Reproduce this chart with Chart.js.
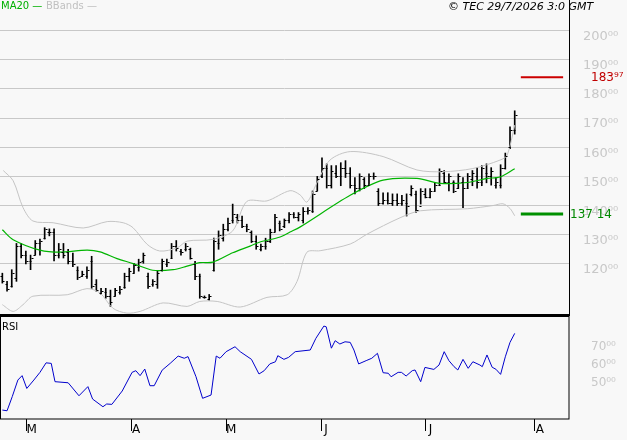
<!DOCTYPE html>
<html>
<head>
<meta charset="utf-8">
<script src="https://cdn.jsdelivr.net/npm/chart.js@4/dist/chart.umd.min.js"></script>
<style>
  body { margin: 0; background: #f8f8f8; font-family: "DejaVu Sans", sans-serif; }
  #wrap { position: relative; width: 627px; height: 440px; overflow: hidden; }
  #main { position: absolute; left: 0; top: 0; }
  #rsi { position: absolute; left: 0; top: 316px; }
  .lbl { position: absolute; font-size: 11px; white-space: nowrap; }
</style>
</head>
<body>
<div id="wrap">
  <canvas id="main" width="627" height="316"></canvas>
  <canvas id="rsi" width="627" height="124"></canvas>
  <div class="lbl" style="left:1px;top:0;color:#00b000;font-size:10px">MA20 —</div>
  <div class="lbl" style="left:46px;top:0;color:#c0c0c0;font-size:10px">BBands —</div>
  <div class="lbl" style="left:448px;top:0;font-style:italic;color:#000">© TEC 29/7/2026 3:0 GMT</div>
  <div class="lbl" style="left:2px;top:321px;color:#000;font-size:10px">RSI</div>
</div>
<script>
// bars: high, low, open, close (index = trading day)
const highs = [116.8,114,118,127,127,124.4,123,128,128.5,132.4,132,132,127,127,125,123.7,119,117.5,119,122.6,
  114.6,111.6,111.6,111,111.6,112.3,116.8,118.5,120.2,121.6,123.7,116.8,114.6,117.5,121.6,121.6,127,128,125,127,
  125.4,120.9,116.5,109,109.5,128.8,131.3,133.6,135.7,140.5,137,136.4,133.6,131.3,129.6,126.8,128.8,131.9,137,134.7,
  135.4,137.6,137.6,137.6,139.3,139.3,145,150,156.4,154.3,153.7,153.7,154.7,155.4,153,149.6,150.9,149.6,150.9,151.2,
  145.8,144.4,144.4,144,144,143.5,144,146.8,145,145.8,145.8,145.8,147.8,152.6,152,150.9,148.5,150.9,149.6,151,
  152,153,153.7,154.3,153,149.6,154,158,167,172.5];
const lows = [113.4,110.6,112,114,122,120,118,123,123,128.5,129.6,121,122,122,120,119,114.6,115.7,115,111.6,
  110.6,109.6,108.2,105.4,108.9,109.6,111.6,114,116.8,117.5,120.2,111.6,112.3,111.6,117.5,119,122,124.4,123,124.4,
  121.6,114.6,108.2,108.2,107.5,117.5,125,127.8,131.3,134,134,132.4,131,127.3,125,124.4,125,127.3,131,131.3,
  132.4,134,135.7,134.7,134,137,137.6,145,149.6,146,146,149.6,146.8,149.6,146,144,145,145.8,146.8,149,
  140,140.5,140.5,140,140,140,136.4,143.3,137.6,140.5,142.6,142.6,145,146.8,147.5,145,144.4,145.8,139.3,146,
  146.8,146,146.8,147.8,147,146,146,152.5,159.5,164.5];
const opens = [116,113,112.5,115,126,123,121,123,127,129,131,131,123,124,124,121,118,116,116,121,
  113,110,110.5,109,109,110.5,112,116,117,119,121,116,113,113,118,120,122,126,124.5,125,
  125,120,116,108.5,108,118,127,129,132,135,136,135,133,131,128,125,126,128,131,134,
  133,135,137,136,135,138,138,145,150,153,147,151,150,153,151,147,146,149,147,150,
  145,141,142,141,142,141,141,144,144,140,144,143,145,147,151,148,148,146,148,146,
  149,150,148,151,150,147,147,153,160,166];
const closes = [114,111.5,117,126,123,121,122,127,128,132,131,123,125,123,121,120,115.5,116.5,118,112.5,
  111,110.8,109,107,111,111.5,116,117.5,119.5,120.5,123,112.5,114,117,121,120.5,126,125.5,124,126,
  122,116,109,108.6,109,128,130,132,134,137,135,133,132,128,126,126,128,131,136,132,
  135,137,136,137,138,138.5,144,149,153,147,152,150,153,151,147,146,150,147,150,150,
  141,142,141,142,141,142,140,146,138.5,145,143,145,147,152,148,150,145,150,146,150,
  151,148,153,150,152,148,153,157,166,171];

// indicator curves: [day, value]
const ma20 = [[0,131.7],[2.3,128.3],[8,124.7],[12.3,124],[18,124.7],[20.8,124.1],[24.4,121.8],[27.8,120.1],
  [32,117.8],[36.3,118],[39.3,119.2],[42,120.4],[44.8,120.6],[49,123.8],[52.7,126.1],[54.8,127.5],[59.1,129.2],
  [61.2,130.9],[63.3,132.6],[74,143.5],[81,148.7],[88.2,149.3],[93.1,147.6],[98.9,147.9],[103.1,149.3],
  [105.9,149.8],[109,152.6]];
const bbUpper = [[0.2,152],[2.3,148.5],[4.4,139.3],[6.5,134.7],[10.8,134.1],[17.2,132.3],[22.3,134.5],[25.7,134.1],
  [27.8,132.4],[30.8,126.7],[33.5,124.4],[37.2,125.5],[39.3,127.8],[44.8,128.4],[49,131.3],[52,141.4],[56.3,141.6],
  [61.2,145.1],[63.3,143.7],[64.8,141.2],[66.9,147.7],[69.7,155.6],[74,158.5],[81,156.8],[88.2,152.2],[93.8,151.6],
  [100.1,152.7],[105.9,155.6],[107.4,157.3],[109,167.6]];
const bbLower = [[0,106],[2.3,103.7],[4.4,106],[6.5,108.9],[13.8,109.4],[18,111.5],[20.8,110],[23.5,104.8],
  [26.5,103.1],[29.3,103.7],[34.2,106.6],[39.3,105.4],[42,107.1],[45.7,107.1],[50.6,105.2],[56.3,108.5],[60.6,109.4],
  [62.7,114],[64.8,124],[67.6,124.5],[74,126.8],[77.6,130.2],[84.6,135.8],[88.9,138.2],[98.9,138.9],[104.4,140],
  [106.5,140.6],[108,139],[109,136.5]];
const rsi = [[0,33.2],[1,32.8],[2.1,40.5],[3.3,49.6],[4.2,52],[5.2,45],[6.7,49.6],[8,53.8],[9.3,59],[10.4,58.7],
  [11.2,48.7],[14,48.1],[16.3,41],[18.2,46],[19.2,39.2],[21.4,35],[22.2,36.5],[23.3,36.3],[25.5,43.6],[27.6,53.8],
  [28.4,54.7],[29.3,52],[30.3,55.6],[31.4,46.5],[32.3,46.5],[34,55],[35.7,58.7],[37.4,62.7],[38.7,61.5],[39.5,62.4],
  [41.2,51.4],[42.6,39.6],[44.4,41.4],[45.5,62.7],[46.3,61.5],[47.6,65.1],[49.5,67.8],[50.6,65.1],[53,60.9],[54.6,52.9],
  [55.7,54.7],[56.9,58.4],[58.1,59.6],[58.6,62.9],[59.9,60.9],[60.9,62],[62.3,65.1],[65.5,66],[66.7,72.4],[68.4,79.1],
  [68.9,78.7],[70,67],[70.8,71.1],[71.8,69.3],[72.9,70.5],[74,70.2],[74.8,66],[75.8,58.4],[77.4,60.2],[78.6,61.5],
  [79.8,64.2],[81,53.6],[82.1,53.3],[82.7,51.4],[84.2,53.8],[84.9,53.8],[85.9,51.8],[87.2,54.7],[87.8,55.1],[89,48.7],
  [89.9,56.5],[91.8,55.4],[92.9,57.8],[94,65.1],[95,60.2],[96.1,56.9],[96.9,55.1],[98,60.9],[99.1,56],[100.1,59.6],
  [101.6,57.8],[102.1,56.9],[103.1,63.3],[104.2,56.6],[105,55.5],[106,52.7],[107,62.3],[108,70.2],[109,75.1]];

const resistance = 183.97;
const support = 137.14;
const levelSpan = [110.3, 119.3];
const priceTicks = [120,130,140,150,160,170,180,190,200];
const rsiTicks = [50,60,70];
const monthTicks = [5.2, 27.4, 47.6, 67.8, 90, 113.3];
const monthLabels = ["M","A","M","J","J","A"];

const toXY = arr => arr.map(p => ({ x: p[0], y: p[1] }));
const supDigits = "⁰¹²³⁴⁵⁶⁷⁸⁹";
const sup = s => s.split("").map(d => supDigits[+d]).join("");
const noPad = s => { s.paddingTop = 0; s.paddingBottom = 0; s.paddingLeft = 0; s.paddingRight = 0; };

const ohlcTicks = {
  id: "ohlcTicks",
  afterDatasetsDraw(c) {
    const xs = c.scales.x, ys = c.scales.y, ctx = c.ctx;
    ctx.save();
    ctx.strokeStyle = "#000";
    ctx.lineWidth = 1;
    ctx.beginPath();
    opens.forEach((o, i) => {
      const x = Math.round(xs.getPixelForValue(i)) + 0.5;
      const yo = Math.round(ys.getPixelForValue(o)) + 0.5;
      const yc = Math.round(ys.getPixelForValue(closes[i])) + 0.5;
      ctx.moveTo(x - 2, yo); ctx.lineTo(x, yo);
      ctx.moveTo(x, yc); ctx.lineTo(x + 2, yc);
    });
    ctx.stroke();
    ctx.font = "12px 'DejaVu Sans'";
    ctx.textBaseline = "middle";
    ctx.fillStyle = "#c00000";
    ctx.fillText("183" + sup("97"), 591, ys.getPixelForValue(resistance) + 1);
    ctx.fillStyle = "#008800";
    ctx.fillText("137 14", 570, ys.getPixelForValue(support) + 1);
    ctx.strokeStyle = "#000";
    ctx.beginPath();
    ctx.moveTo(c.chartArea.right + 0.5, 0); ctx.lineTo(c.chartArea.right + 0.5, 316);
    ctx.stroke();
    ctx.lineWidth = 2;
    ctx.beginPath();
    ctx.moveTo(0, 315); ctx.lineTo(c.chartArea.right + 1, 315);
    ctx.stroke();
    ctx.restore();
  }
};

const xBase = { type: "linear", min: -0.5, max: 120.55, offset: false };

new Chart(document.getElementById("main"), {
  type: "line",
  data: {
    datasets: [
      { data: toXY(bbUpper), borderColor: "#c4c4c4", borderWidth: 1, pointRadius: 0, tension: 0.3 },
      { data: toXY(bbLower), borderColor: "#c4c4c4", borderWidth: 1, pointRadius: 0, tension: 0.3 },
      { data: toXY(ma20), borderColor: "#00b400", borderWidth: 1.2, pointRadius: 0, tension: 0.3 },
      { type: "bar", data: highs.map((h, i) => ({ x: i, y: [lows[i], h] })), backgroundColor: "#000", barThickness: 1 },
      { data: levelSpan.map(x => ({ x, y: resistance })), borderColor: "#cc0000", borderWidth: 2, pointRadius: 0 },
      { data: levelSpan.map(x => ({ x, y: support })), borderColor: "#009000", borderWidth: 3, pointRadius: 0 }
    ]
  },
  options: {
    responsive: false, animation: false,
    layout: { padding: { top: 0, bottom: 2, left: 0, right: 0 } },
    plugins: { legend: { display: false }, tooltip: { enabled: false } },
    scales: {
      x: { ...xBase, display: false, grid: { display: false, offset: false }, afterFit: noPad },
      y: {
        position: "right", min: 102.8, max: 210.5,
        afterBuildTicks: s => { s.ticks = priceTicks.map(v => ({ value: v })); },
        afterFit: s => { s.width = 58; noPad(s); },
        grid: { color: "#c8c8c8", drawTicks: false },
        border: { display: false },
        ticks: { color: "#c8c8c8", font: { family: "DejaVu Sans", size: 13 }, padding: 14, labelOffset: 6,
          callback: v => v + sup("00") }
      }
    }
  },
  plugins: [ohlcTicks]
});

const rsiFrame = {
  id: "rsiFrame",
  afterDraw(c) {
    const a = c.chartArea, ctx = c.ctx;
    ctx.save();
    ctx.strokeStyle = "#000";
    ctx.lineWidth = 1;
    ctx.strokeRect(0.5, a.top + 0.5, a.right - 0.5, a.bottom - a.top - 0.5);
    ctx.restore();
  }
};

new Chart(document.getElementById("rsi"), {
  type: "line",
  data: { datasets: [{ data: toXY(rsi), borderColor: "#0000cc", borderWidth: 1, pointRadius: 0 }] },
  options: {
    responsive: false, animation: false,
    layout: { padding: 0 },
    plugins: { legend: { display: false }, tooltip: { enabled: false } },
    scales: {
      x: {
        ...xBase,
        afterBuildTicks: s => { s.ticks = monthTicks.map(v => ({ value: v })); },
        afterFit: s => { s.height = 21; noPad(s); },
        grid: { display: true, drawOnChartArea: false, color: "#000", tickLength: 12, tickWidth: 1 },
        border: { display: false },
        ticks: { color: "#000", font: { family: "DejaVu Sans", size: 12 }, padding: -8, labelOffset: 5,
          autoSkip: false, maxRotation: 0,
          callback: (v, i) => monthLabels[i] }
      },
      y: {
        position: "right", min: 28.3, max: 84.6,
        afterBuildTicks: s => { s.ticks = rsiTicks.map(v => ({ value: v })); },
        afterFit: s => { s.width = 58; noPad(s); },
        grid: { display: false },
        border: { display: false },
        ticks: { color: "#c8c8c8", font: { family: "DejaVu Sans", size: 12 }, padding: 14, labelOffset: 4,
          callback: v => v + sup("00") }
      }
    }
  },
  plugins: [rsiFrame]
});
</script>
</body>
</html>
